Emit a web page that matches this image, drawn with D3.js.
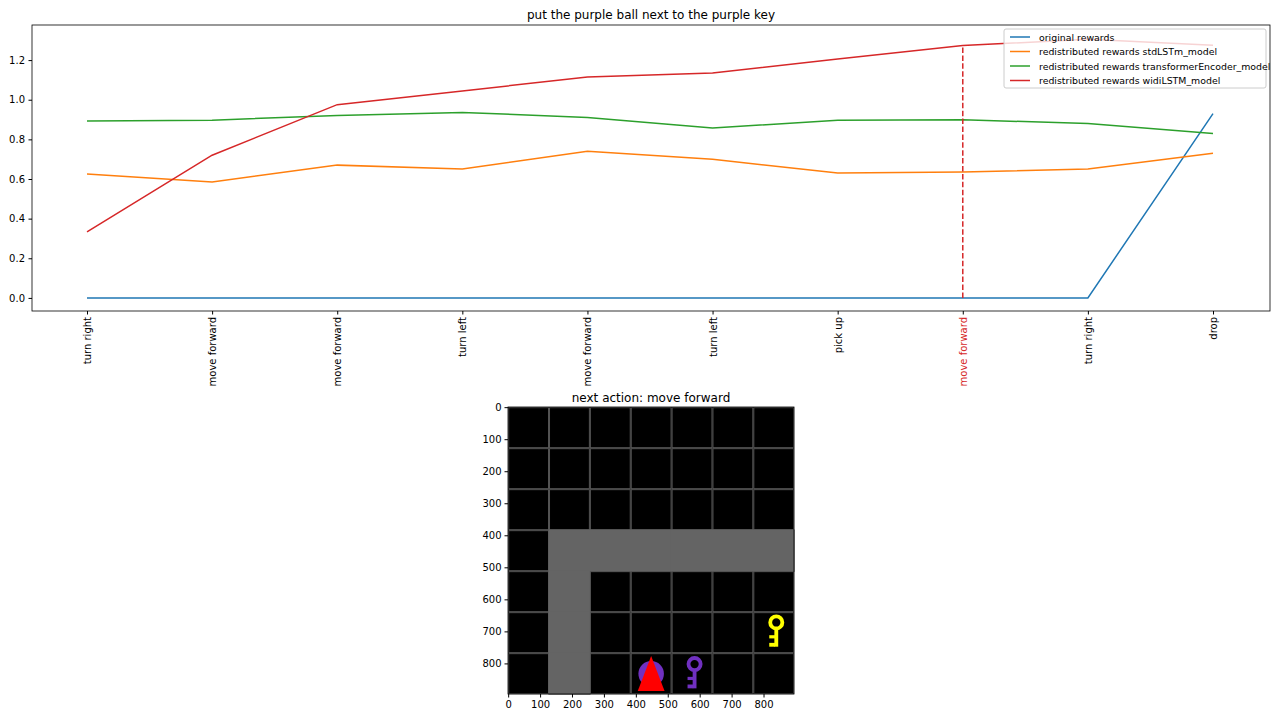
<!DOCTYPE html>
<html><head><meta charset="utf-8">
<script src="https://cdn.jsdelivr.net/npm/d3@7"></script>
<style>body{margin:0;background:#fff}text{font-family:"DejaVu Sans",sans-serif}</style>
</head><body><svg id="c" width="1280" height="720"></svg>
<script>
const actions=["turn right","move forward","move forward","turn left","move forward","turn left","pick up","move forward","turn right","drop"];
const original=[0,0,0,0,0,0,0,0,0,0.93];
const stdLSTM=[0.625,0.585,0.67,0.65,0.74,0.70,0.63,0.635,0.65,0.73];
const transformer=[0.893,0.897,0.921,0.936,0.91,0.857,0.897,0.899,0.88,0.83];
const widiLSTM=[0.333,0.72,0.975,1.044,1.115,1.135,1.205,1.273,1.305,1.275];
const seriesNames=["original rewards","redistributed rewards stdLSTm_model","redistributed rewards transformerEncoder_model","redistributed rewards widiLSTM_model"];
const colors=["#1f77b4","#ff7f0e","#2ca02c","#d62728"];
const currentStep=7;
const yTicks=[0,0.2,0.4,0.6,0.8,1.0,1.2];
// grid world: 0 = empty (black), 1 = wall (gray); 7x7 cells of 128px
const gridRows=[[0,0,0,0,0,0,0],[0,0,0,0,0,0,0],[0,0,0,0,0,0,0],[0,1,1,1,1,1,1],[0,1,0,0,0,0,0],[0,1,0,0,0,0,0],[0,1,0,0,0,0,0]];
const ball={x:448,y:832,r:40,color:"#7030c0"};
const keys=[{x:584,y:830,color:"#7030c0"},{x:840,y:700,color:"#ffff00"}];
const agent={x:448,y:832};
const imgTicks=[0,100,200,300,400,500,600,700,800];

const svg=d3.select("#c");
const M={l:32,r:1270,t:25,b:311};
const x=d3.scalePoint().domain(d3.range(actions.length)).range([87,1213]);
const y=d3.scaleLinear().domain([-0.066,1.377]).range([M.b,M.t]);
svg.append("text").attr("x",(M.l+M.r)/2).attr("y",19).attr("text-anchor","middle").attr("font-size",12).text("put the purple ball next to the purple key");
const ya=svg.append("g").attr("transform",`translate(${M.l},0)`).call(d3.axisLeft(y).tickValues(yTicks).tickFormat(d3.format(".1f")).tickSize(3.5).tickPadding(3.5));
ya.select(".domain").remove();ya.selectAll("text").attr("font-size",10);
const xa=svg.append("g").attr("transform",`translate(0,${M.b})`).call(d3.axisBottom(x).tickSize(3.5).tickFormat(i=>actions[i]));
xa.select(".domain").remove();
xa.selectAll("text").attr("font-size",10).attr("transform","rotate(-90)").attr("text-anchor","end").attr("x",-6).attr("y",0).attr("dy","0.35em")
  .attr("fill",(d)=>d===currentStep?"#d62728":"#000");
const all=[original,stdLSTM,transformer,widiLSTM];
const line=d3.line().x((d,i)=>x(i)).y(d=>y(d));
all.forEach((s,k)=>svg.append("path").datum(s).attr("d",line).attr("fill","none").attr("stroke",colors[k]).attr("stroke-width",1.5));
svg.append("line").attr("x1",x(currentStep)).attr("x2",x(currentStep)).attr("y1",y(0)).attr("y2",y(widiLSTM[currentStep])).attr("stroke","#d62728").attr("stroke-width",1.5).attr("stroke-dasharray","5.5,2.4");
svg.append("rect").attr("x",M.l).attr("y",M.t).attr("width",M.r-M.l).attr("height",M.b-M.t).attr("fill","none").attr("stroke","#000").attr("stroke-width",0.8);
// legend
const lg=svg.append("g").attr("transform","translate(1004,29)");
lg.append("rect").attr("width",262).attr("height",59).attr("rx",2).attr("fill","#fff").attr("fill-opacity",0.8).attr("stroke","#ccc");
seriesNames.forEach((n,i)=>{const g=lg.append("g").attr("transform",`translate(6,${8+i*14.5})`);
 g.append("line").attr("x1",0).attr("x2",20).attr("stroke",colors[i]).attr("stroke-width",1.5);
 g.append("text").attr("x",29).attr("y",3.5).attr("font-size",9.4).text(n);});
// image panel
const I={l:508,r:794,t:407,b:694};
const ix=d3.scaleLinear().domain([-0.5,895.5]).range([I.l,I.r]);
const iy=d3.scaleLinear().domain([-0.5,895.5]).range([I.t,I.b]);
svg.append("text").attr("x",(I.l+I.r)/2).attr("y",402).attr("text-anchor","middle").attr("font-size",12).text("next action: move forward");
const ig=svg.append("g");
ig.append("rect").attr("x",I.l).attr("y",I.t).attr("width",I.r-I.l).attr("height",I.b-I.t).attr("fill","#000");
gridRows.forEach((row,r)=>row.forEach((v,c)=>{
 if(v) ig.append("rect").attr("x",ix(c*128)-0.6).attr("y",iy(r*128)-0.6).attr("width",ix(128)-ix(0)+1.2).attr("height",iy(128)-iy(0)+1.2).attr("fill","#646464");
 else ig.append("rect").attr("x",ix(c*128)+0.5).attr("y",iy(r*128)+0.5).attr("width",ix(128)-ix(0)-1).attr("height",iy(128)-iy(0)-1).attr("fill","none").attr("stroke","#555").attr("stroke-width",1);
}));
ig.append("circle").attr("cx",ix(ball.x)).attr("cy",iy(ball.y)).attr("r",ix(ball.r)-ix(0)).attr("fill",ball.color);
keys.forEach(k=>{
 const s=ix(1)-ix(0);
 const g=ig.append("g").attr("transform",`translate(${ix(k.x)},${iy(k.y)}) scale(${s})`);
 g.append("circle").attr("cx",0).attr("cy",-28).attr("r",19).attr("fill","none").attr("stroke",k.color).attr("stroke-width",12);
 g.append("rect").attr("x",-6).attr("y",-12).attr("width",12).attr("height",60).attr("fill",k.color);
 g.append("rect").attr("x",-22).attr("y",12).attr("width",18).attr("height",10).attr("fill",k.color);
 g.append("rect").attr("x",-22).attr("y",36).attr("width",18).attr("height",12).attr("fill",k.color);
});
ig.append("path").attr("d",`M${ix(agent.x)},${iy(agent.y-55)}L${ix(agent.x+42)},${iy(agent.y+54)}L${ix(agent.x-42)},${iy(agent.y+54)}Z`).attr("fill","#ff0000");
const ixa=svg.append("g").attr("transform",`translate(0,${I.b})`).call(d3.axisBottom(ix).tickValues(imgTicks).tickSize(3.5));
const iya=svg.append("g").attr("transform",`translate(${I.l},0)`).call(d3.axisLeft(iy).tickValues(imgTicks).tickSize(3.5));
[ixa,iya].forEach(a=>{a.select(".domain").remove();a.selectAll("text").attr("font-size",10);});
svg.append("rect").attr("x",I.l).attr("y",I.t).attr("width",I.r-I.l).attr("height",I.b-I.t).attr("fill","none").attr("stroke","#000").attr("stroke-width",0.8);
</script></body></html>
